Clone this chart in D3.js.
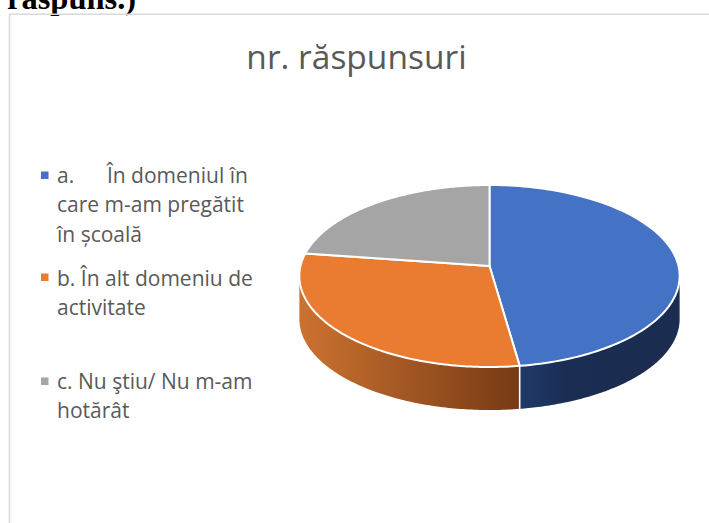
<!DOCTYPE html>
<html><head><meta charset="utf-8">
<script src="https://cdn.jsdelivr.net/npm/d3@7"></script>
<style>html,body{margin:0;padding:0;background:#fff}svg{display:block}</style></head>
<body><svg id="c" width="709" height="523"></svg>
<script>
const chartTitle = "nr. răspunsuri";
const clippedHeading = "răspuns.)";
const categories = ["a. În domeniul în care m-am pregătit în școală", "b. În alt domeniu de activitate", "c. Nu ştiu/ Nu m-am hotărât"];
const legendLines = [["a.      În domeniul în", "care m-am pregătit", "în școală"], ["b. În alt domeniu de", "activitate"], ["c. Nu ştiu/ Nu m-am", "hotărât"]];
const values = [21, 13, 10];
const colors = ["#4472c4", "#ea7c31", "#a5a5a5"];

const svg = d3.select("#c");
const defs = svg.append("defs");
const FONT = "Open Sans";

svg.append("text").attr("x", 7).attr("y", 9).attr("font-family", "Liberation Serif")
  .attr("font-weight", "bold").attr("font-size", 32.5).attr("fill", "#000").text(clippedHeading);

svg.append("path").attr("d", "M9.5,523V14.2H709").attr("fill", "none").attr("stroke", "#d9d9d9").attr("stroke-width", 1.6);

svg.append("text").attr("x", 356.5).attr("y", 69).attr("text-anchor", "middle")
  .attr("font-family", FONT).attr("font-size", 33.5).attr("fill", "#595959").text(chartTitle);

// legend
const legendY = [[183, 212, 242], [286, 315], [389, 418]];
const markerY = [175, 277, 381];
legendLines.forEach((lines, i) => {
  svg.append("rect").attr("x", 41).attr("y", markerY[i] - 3.5).attr("width", 7.5).attr("height", 7.5).attr("fill", colors[i]);
  lines.forEach((t, j) => svg.append("text").attr("x", 57).attr("y", legendY[i][j])
    .style("white-space", "pre").attr("font-family", FONT).attr("font-size", 21).attr("fill", "#595959").text(t));
});

// pie with a perspective tilt
const cx = 489.5, cy = 266, a = 189, b = 89.9, k = 0.11, depth = 43;
const project = t => {
  const X = Math.sin(t), Y = Math.cos(t), w = 1 + k * Y;
  return [cx + a * X / w, cy - b * Y / w];
};
const arcs = d3.pie().sort(null)(values);
const line = d3.line();
const samples = (s, e) => d3.range(0, 121).map(i => s + (e - s) * i / 120);

// side walls (visible front half only)
const frontS = Math.PI * 0.53, frontE = Math.PI * 1.47;
const wallStops = [
  [[0, "#1f3a68"], [0.3, "#1a2d52"], [1, "#1a2d50"]],
  [[0, "#cc7230"], [1, "#763a15"]]
];
const wallX = [[520, 680], [300, 520]];
wallStops.forEach((stops, i) => {
  const g = defs.append("linearGradient").attr("id", "w" + i).attr("gradientUnits", "userSpaceOnUse")
    .attr("x1", wallX[i][0]).attr("x2", wallX[i][1]).attr("y1", 0).attr("y2", 0);
  stops.forEach(([o, c]) => g.append("stop").attr("offset", o).attr("stop-color", c));
});

arcs.forEach((d, i) => {
  const s = Math.max(d.startAngle, frontS), e = Math.min(d.endAngle, frontE);
  if (e <= s) return;
  const top = samples(s, e).map(project);
  const bot = top.map(([x, y]) => [x, y + depth]).reverse();
  svg.append("path").attr("d", line(top.concat(bot)) + "Z").attr("fill", `url(#w${i})`);
});
// wall separator between blue and orange
const sep = project(arcs[0].endAngle);
svg.append("path").attr("d", line([sep, [sep[0], sep[1] + depth]])).attr("stroke", "#fff").attr("stroke-width", 1.6).attr("fill", "none");

// top faces
arcs.forEach((d, i) => {
  const pts = [[cx, cy]].concat(samples(d.startAngle, d.endAngle).map(project));
  svg.append("path").attr("d", line(pts) + "Z").attr("fill", colors[i])
    .attr("stroke", "#fff").attr("stroke-width", 2).attr("stroke-linejoin", "round");
});
</script></body></html>
